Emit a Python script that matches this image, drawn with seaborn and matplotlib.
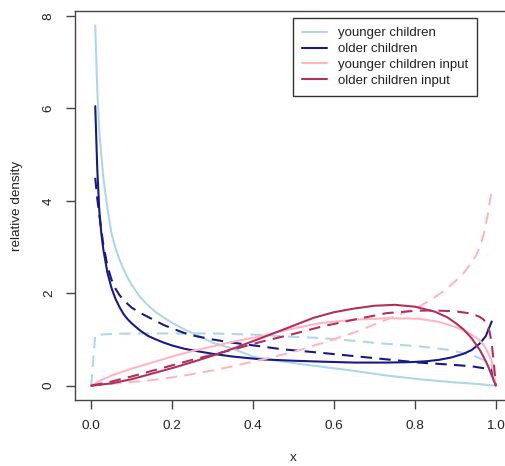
import matplotlib
matplotlib.use("Agg")
import matplotlib.pyplot as plt
import matplotlib.lines as mlines
import seaborn as sns

# ---- data ----
# younger children (solid light blue)
yc_x = [0.01, 0.015, 0.02, 0.03, 0.04, 0.05, 0.06, 0.07, 0.08, 0.09, 0.10, 0.12, 0.14, 0.16, 0.18, 0.20,
        0.23, 0.26, 0.30, 0.35, 0.40, 0.45, 0.50, 0.57, 0.65, 0.73, 0.81, 0.90, 0.95, 1.00]
yc_y = [7.80, 6.40, 5.50, 4.50, 3.85, 3.30, 2.98, 2.73, 2.52, 2.34, 2.18, 1.93, 1.74, 1.59, 1.47, 1.36,
        1.22, 1.10, 0.93, 0.80, 0.63, 0.55, 0.49, 0.41, 0.32, 0.22, 0.14, 0.07, 0.04, 0.00]

# younger children (dashed light blue)
yc2_x = [0.00, 0.01, 0.05, 0.10, 0.20, 0.30, 0.42, 0.47, 0.57, 0.65, 0.71, 0.81, 0.88, 0.94, 0.98, 0.99, 1.00]
yc2_y = [0.00, 1.10, 1.12, 1.13, 1.13, 1.13, 1.10, 1.07, 1.03, 0.97, 0.92, 0.85, 0.78, 0.67, 0.52, 0.45, 0.00]

# older children (solid navy)
oc_x = [0.01, 0.015, 0.02, 0.025, 0.03, 0.04, 0.05, 0.06, 0.07, 0.08, 0.09, 0.10, 0.12, 0.14, 0.16, 0.18, 0.20,
        0.23, 0.26, 0.30, 0.35, 0.42, 0.50, 0.57, 0.65, 0.73, 0.79, 0.83, 0.86, 0.89, 0.92, 0.94, 0.96, 0.975, 0.99]
oc_y = [6.05, 4.70, 3.80, 3.30, 2.95, 2.45, 2.12, 1.88, 1.70, 1.55, 1.44, 1.35, 1.20, 1.08, 1.00, 0.93, 0.87,
        0.80, 0.75, 0.69, 0.63, 0.57, 0.54, 0.52, 0.50, 0.50, 0.51, 0.53, 0.56, 0.61, 0.69, 0.77, 0.91, 1.07, 1.39]

# older children (dashed navy)
oc2_x = [0.01, 0.015, 0.02, 0.03, 0.04, 0.05, 0.06, 0.07, 0.08, 0.09, 0.10, 0.12, 0.14, 0.16, 0.18, 0.20,
         0.23, 0.26, 0.30, 0.35, 0.42, 0.47, 0.57, 0.65, 0.73, 0.81, 0.88, 0.94, 0.99, 1.00]
oc2_y = [4.50, 4.05, 3.70, 3.05, 2.60, 2.30, 2.10, 1.96, 1.86, 1.77, 1.69, 1.58, 1.49, 1.40, 1.31, 1.24,
         1.14, 1.07, 1.00, 0.93, 0.85, 0.79, 0.71, 0.64, 0.57, 0.50, 0.46, 0.42, 0.35, 0.00]

# younger children input (solid pink)
yi_x = [0.00, 0.02, 0.05, 0.10, 0.15, 0.20, 0.25, 0.30, 0.35, 0.42, 0.50, 0.57, 0.65, 0.73, 0.81, 0.86,
        0.90, 0.93, 0.95, 0.96, 0.97, 0.98, 0.99, 1.00]
yi_y = [0.00, 0.10, 0.22, 0.37, 0.50, 0.63, 0.75, 0.85, 0.95, 1.07, 1.24, 1.36, 1.43, 1.46, 1.45, 1.38,
        1.27, 1.16, 1.05, 0.98, 0.88, 0.73, 0.52, 0.00]

# younger children input (dashed pink)
yi2_x = [0.00, 0.05, 0.10, 0.15, 0.20, 0.25, 0.30, 0.35, 0.42, 0.50, 0.57, 0.65, 0.73, 0.81, 0.84, 0.87,
         0.90, 0.92, 0.94, 0.95, 0.96, 0.97, 0.98, 0.99]
yi2_y = [0.00, 0.04, 0.08, 0.12, 0.18, 0.25, 0.33, 0.42, 0.56, 0.73, 0.92, 1.15, 1.43, 1.71, 1.86, 2.04,
         2.26, 2.43, 2.66, 2.80, 3.00, 3.27, 3.70, 4.25]

# older children input (solid maroon)
oi_x = [0.00, 0.05, 0.10, 0.15, 0.20, 0.25, 0.30, 0.35, 0.42, 0.50, 0.55, 0.60, 0.65, 0.70, 0.75, 0.80,
        0.85, 0.88, 0.90, 0.92, 0.94, 0.96, 0.97, 0.98, 0.99, 1.00]
oi_y = [0.00, 0.05, 0.14, 0.26, 0.38, 0.51, 0.65, 0.80, 1.03, 1.30, 1.47, 1.59, 1.67, 1.73, 1.75, 1.71,
        1.60, 1.48, 1.36, 1.22, 1.03, 0.78, 0.62, 0.44, 0.22, 0.00]

# older children input (dashed maroon)
oi2_x = [0.00, 0.05, 0.10, 0.15, 0.20, 0.25, 0.30, 0.35, 0.42, 0.50, 0.57, 0.65, 0.73, 0.80, 0.84, 0.90,
         0.94, 0.96, 0.97, 0.98, 0.985, 0.99, 0.995, 1.00]
oi2_y = [0.00, 0.09, 0.20, 0.32, 0.44, 0.56, 0.67, 0.78, 0.95, 1.12, 1.28, 1.43, 1.57, 1.62, 1.63, 1.61,
         1.56, 1.49, 1.43, 1.30, 1.15, 0.90, 0.50, 0.00]

legend_labels = ["younger children", "older children", "younger children input", "older children input"]
x_ticks = [0.0, 0.2, 0.4, 0.6, 0.8, 1.0]
x_ticklabels = ["0.0", "0.2", "0.4", "0.6", "0.8", "1.0"]
y_ticks = [0, 2, 4, 6, 8]
y_ticklabels = ["0", "2", "4", "6", "8"]

# ---- styling ----
sns.set_style("ticks")
plt.rcParams['font.family'] = ['Liberation Sans', 'DejaVu Sans']

C_LB = "#ADD8E6"
C_NV = "#1a1a82"
C_PK = "#FFB6C1"
C_MR = "#B03060"
LW = 1.5
DASH = (5.5, 3.5)

fig = plt.figure(figsize=(5.06, 4.66), dpi=100)
ax = fig.add_axes([75/506, 66/466, 437/506, 389/466])

series = [
    (yc_x, yc_y, C_LB, False),
    (yc2_x, yc2_y, C_LB, True),
    (oc_x, oc_y, C_NV, False),
    (oc2_x, oc2_y, C_NV, True),
    (yi_x, yi_y, C_PK, False),
    (yi2_x, yi2_y, C_PK, True),
    (oi_x, oi_y, C_MR, False),
    (oi2_x, oi2_y, C_MR, True),
]
for xs, ys, col, dashed in series:
    sns.lineplot(x=xs, y=ys, color=col, ax=ax, lw=LW, estimator=None, sort=False)
    if dashed:
        ax.lines[-1].set_dashes(DASH)

ax.set_xlim(-0.04, 1.04)
ax.set_ylim(-0.31, 8.11)
ax.set_xticks(x_ticks)
ax.set_xticklabels(x_ticklabels)
ax.set_yticks(y_ticks)
ax.set_yticklabels(y_ticklabels, rotation=90, va="center")
ax.tick_params(direction="out", length=6.5, width=1.0, color="#444444", pad=8,
               labelsize=9.7, labelcolor="#222222")
for s in ax.spines.values():
    s.set_color("#444444")
    s.set_linewidth(1.0)
    s.set_visible(True)

ax.set_xlabel("x", fontsize=9.7, color="#222222", labelpad=14)
ax.set_ylabel("relative density", fontsize=9.7, color="#222222", labelpad=14)

handles = [mlines.Line2D([], [], color=c, lw=LW) for c in (C_LB, C_NV, C_PK, C_MR)]
leg = ax.legend(handles, legend_labels, loc="upper left",
                bbox_to_anchor=(293/506, 1 - 18/466), bbox_transform=fig.transFigure,
                frameon=True, fancybox=False, framealpha=1, edgecolor="#333333",
                borderaxespad=0, handlelength=1.9, handletextpad=0.82,
                labelspacing=0.28, borderpad=0.68, fontsize=9.5)
leg.get_frame().set_linewidth(1.0)
for t in leg.get_texts():
    t.set_color("#222222")

fig.savefig("out.png", dpi=100)
